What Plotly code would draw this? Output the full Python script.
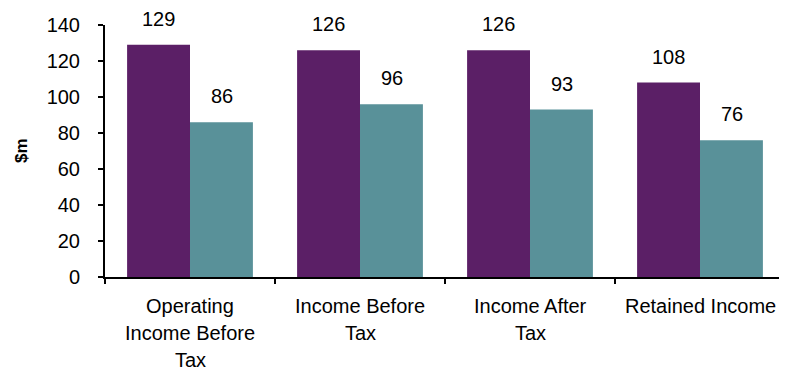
import plotly.graph_objects as go

categories = ["Operating<br>Income Before<br>Tax", "Income Before<br>Tax", "Income After<br>Tax", "Retained Income"]
series_a = [129, 126, 126, 108]
series_b = [86, 96, 93, 76]
y_ticks = [0, 20, 40, 60, 80, 100, 120, 140]

PURPLE = "rgb(91,31,102)"
TEAL = "rgb(89,145,153)"
FONT = "Liberation Sans, Arial, sans-serif"
FS = 20

fig = go.Figure()
fig.add_trace(go.Bar(x=categories, y=series_a, marker=dict(color=PURPLE, line=dict(width=0)), name="A"))
fig.add_trace(go.Bar(x=categories, y=series_b, marker=dict(color=TEAL, line=dict(width=0)), name="B"))

annotations = []
for tr in fig.data:
    for c, v in zip(tr.x, tr.y):
        annotations.append(dict(x=c, y=v, xref="x", yref="y", text=str(v), showarrow=False,
                                yanchor="middle", yshift=26, font=dict(size=FS, color="black", family=FONT),
                                xshift=-32 if tr.name == "A" else 32))
for c in categories:
    for i, line in enumerate(c.split("<br>")):
        annotations.append(dict(x=c, y=0, xref="x", yref="paper", text=line, showarrow=False,
                                yanchor="middle", yshift=-29 - 27 * i, font=dict(size=FS, color="black", family=FONT)))
annotations.append(dict(x=0, y=0.5, xref="paper", yref="paper", text="<b>$m</b>", showarrow=False,
                        textangle=-90, xanchor="center", yanchor="middle", xshift=-84,
                        font=dict(size=17, color="black", family=FONT)))

# page body has an 8px default margin, so the figure is sized/offset to compensate
fig.update_layout(
    width=779, height=368,
    margin=dict(l=97, r=2, t=17, b=99),
    plot_bgcolor="white", paper_bgcolor="white",
    barmode="group", bargap=0.26, bargroupgap=0,
    showlegend=False,
    annotations=annotations,
    font=dict(family=FONT, size=FS, color="black"),
)
fig.update_xaxes(showline=True, linecolor="black", linewidth=2, showticklabels=False,
                 ticks="outside", ticklen=5, tickwidth=2, tickcolor="black", tickson="boundaries",
                 showgrid=False, zeroline=False)
fig.update_yaxes(range=[0, 140], tickvals=y_ticks, showline=True, linecolor="black", linewidth=2,
                 ticks="outside", ticklen=5, tickwidth=2, tickcolor="black", ticklabelstandoff=14,
                 showgrid=False, zeroline=False, tickfont=dict(size=FS, family=FONT, color="black"))

fig.write_html("out.html")
